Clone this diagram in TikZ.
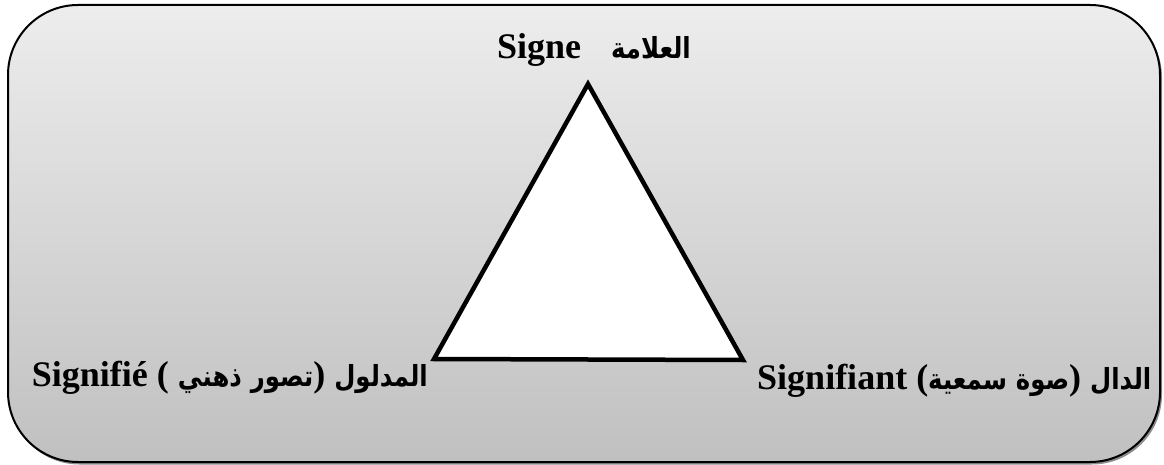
\documentclass[tikz,border=0pt]{standalone}
\usepackage{fontspec}
\setmainfont{Liberation Serif}
\newfontfamily\arabicfont[Script=Arabic, FakeStretch=0.84]{DejaVu Sans}
\TeXXeTstate=1
\usepackage{tikz}
\definecolor{cadrehaut}{RGB}{237,237,237}
\definecolor{cadrebas}{RGB}{192,192,192}
\newcommand{\ar}[1]{{\arabicfont\fontsize{29}{34}\selectfont\beginR #1\endR}}
\tikzset{
  cadre/.style={draw=black, line width=2pt, rounded corners=70pt,
    top color=cadrehaut, bottom color=cadrebas},
  ombre/.style={fill=black!45, rounded corners=70pt},
  triangle/.style={draw=black, fill=white, line width=4.5pt, line join=miter},
  etiq/.style={inner sep=0pt, font=\fontsize{36}{40}\selectfont\bfseries}
}
\begin{document}
\begin{tikzpicture}[x=1pt, y=-1pt]
  \useasboundingbox (0,0) rectangle (1164,465);
  % cadre
  \fill[ombre] (9.5,7.5) rectangle (1162,464.5);
  \shade[cadre] (8,5) rectangle (1160,462);
  % triangle
  \coordinate (sommet) at (588,84);
  \coordinate (gauche) at (434,359);
  \coordinate (droite) at (743,360);
  \draw[triangle] (sommet) -- (gauche) -- (droite) -- cycle;
  % etiquettes (ordre visuel, de gauche a droite)
  \node[etiq, anchor=base west] (signe) at (497,59) {Signe\hspace{30pt}\ar{العلامة}};
  \node[etiq, anchor=base east] (signifie) at (428,386)
    {Signifié ( \ar{ذهني} \ar{تصور}) \ar{المدلول}};
  \node[etiq, anchor=base west] (signifiant) at (757,389)
    {Signifiant (\ar{سمعية} \ar{صوة}) \ar{الدال}};
\end{tikzpicture}
\end{document}
